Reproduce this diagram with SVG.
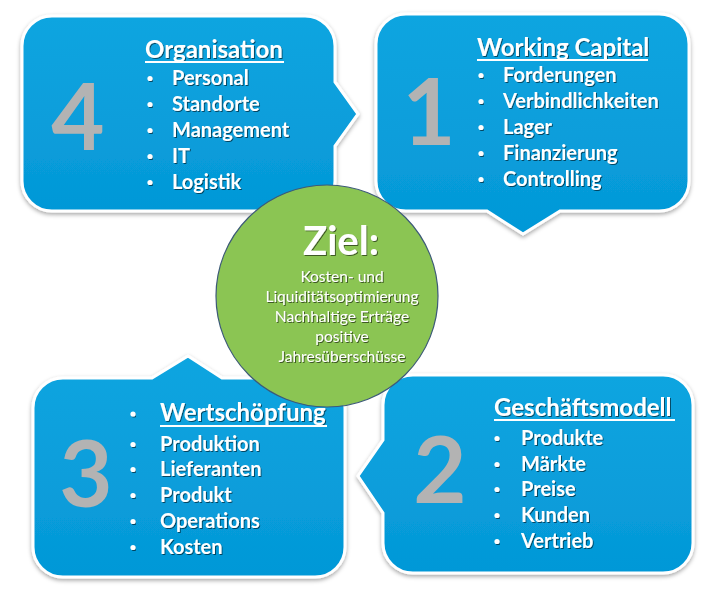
<svg xmlns="http://www.w3.org/2000/svg" width="711" height="594" viewBox="0 0 711 594">
<defs>
<linearGradient id="blue" x1="0" y1="0" x2="0" y2="1">
<stop offset="0" stop-color="#0fa5e0"/>
<stop offset="1" stop-color="#0498d7"/>
</linearGradient>
<filter id="shadow" x="-10%" y="-10%" width="120%" height="125%">
<feDropShadow dx="0" dy="2" stdDeviation="2" flood-color="#000" flood-opacity="0.35"/>
</filter>
<filter id="ts" x="-5%" y="-20%" width="110%" height="150%">
<feDropShadow dx="1" dy="1" stdDeviation="0.6" flood-color="#000" flood-opacity="0.55"/>
</filter>
</defs>
<style>
.box{fill:url(#blue);stroke:#fff;stroke-width:3;filter:url(#shadow)}
.num{font-family:Lato,"Open Sans",sans-serif;font-weight:700;font-size:92px;fill:#b3b3b3}
.hd{font-family:Lato,"Open Sans",sans-serif;font-weight:700;font-size:24px;fill:#fff;filter:url(#ts)}
.it{font-family:Lato,"Open Sans",sans-serif;font-weight:700;font-size:20px;fill:#fff;filter:url(#ts)}
.bl{fill:#fff;filter:url(#ts)}
.ul{stroke:#fff;stroke-width:2}
.zt{font-family:Lato,"Open Sans",sans-serif;font-weight:700;font-size:40px;fill:#fff;text-anchor:middle;filter:url(#ts)}
.zs{font-family:Lato,"Open Sans",sans-serif;font-size:15.5px;fill:#fff;text-anchor:middle;filter:url(#ts)}
</style>
<rect width="711" height="594" fill="#fff"/>

<g id="node-4">
<path class="box" d="M52,16 H305 A30,30 0 0 1 335,46 V82 L358,114 L335,146 V181 A30,30 0 0 1 305,211 H52 A30,30 0 0 1 22,181 V46 A30,30 0 0 1 52,16 Z"/>
<text class="num" x="78" y="150" text-anchor="middle">4</text>
<text class="hd" x="145" y="58">Organisation</text>
<line class="ul" x1="145" y1="62" x2="284" y2="62"/>
<g class="bl">
<circle cx="150" cy="78.5" r="2.6"/><circle cx="150" cy="104.5" r="2.6"/><circle cx="150" cy="130.5" r="2.6"/><circle cx="150" cy="156.5" r="2.6"/><circle cx="150" cy="182.5" r="2.6"/>
</g>
<g class="it">
<text x="172" y="85">Personal</text>
<text x="172" y="111">Standorte</text>
<text x="172" y="137">Management</text>
<text x="172" y="163">IT</text>
<text x="172" y="189">Logistik</text>
</g>
</g>

<g id="node-1">
<path class="box" d="M406,14 H659 A30,30 0 0 1 689,44 V181 A30,30 0 0 1 659,211 H560 L523,234 L487,211 H406 A30,30 0 0 1 376,181 V44 A30,30 0 0 1 406,14 Z"/>
<text class="num" x="429" y="145" text-anchor="middle">1</text>
<text class="hd" x="477" y="56">Working Capital</text>
<line class="ul" x1="477" y1="60" x2="648" y2="60"/>
<g class="bl">
<circle cx="481" cy="75.5" r="2.6"/><circle cx="481" cy="101.5" r="2.6"/><circle cx="481" cy="127.5" r="2.6"/><circle cx="481" cy="153.5" r="2.6"/><circle cx="481" cy="179.5" r="2.6"/>
</g>
<g class="it">
<text x="503" y="82">Forderungen</text>
<text x="503" y="108">Verbindlichkeiten</text>
<text x="503" y="134">Lager</text>
<text x="503" y="160">Finanzierung</text>
<text x="503" y="186">Controlling</text>
</g>
</g>

<g id="node-3">
<path class="box" d="M63,378 H152 L188,356 L222,378 H315 A30,30 0 0 1 345,408 V547 A30,30 0 0 1 315,577 H63 A30,30 0 0 1 33,547 V408 A30,30 0 0 1 63,378 Z"/>
<text class="num" x="86" y="507" text-anchor="middle">3</text>
<g class="bl">
<circle cx="133" cy="414" r="2.6"/><circle cx="133" cy="444.5" r="2.6"/><circle cx="133" cy="469.5" r="2.6"/><circle cx="133" cy="495.5" r="2.6"/><circle cx="133" cy="521.5" r="2.6"/><circle cx="133" cy="547.5" r="2.6"/>
</g>
<g class="it">
<text x="160" y="451">Produktion</text>
<text x="160" y="476">Lieferanten</text>
<text x="160" y="502">Produkt</text>
<text x="160" y="528">Operations</text>
<text x="160" y="554">Kosten</text>
</g>
<text class="hd" x="160" y="421">Wertschöpfung</text>
<line class="ul" x1="160" y1="426" x2="327" y2="426"/>
</g>

<g id="node-2">
<path class="box" d="M413,375 H663 A30,30 0 0 1 693,405 V543 A30,30 0 0 1 663,573 H413 A30,30 0 0 1 383,543 V513 L358,476 L383,440 V405 A30,30 0 0 1 413,375 Z"/>
<text class="num" x="440" y="503" text-anchor="middle">2</text>
<text class="hd" x="494" y="416">Geschäftsmodell</text>
<line class="ul" x1="494" y1="420" x2="675" y2="420"/>
<g class="bl">
<circle cx="497" cy="438.5" r="2.6"/><circle cx="497" cy="464.5" r="2.6"/><circle cx="497" cy="489.5" r="2.6"/><circle cx="497" cy="515.5" r="2.6"/><circle cx="497" cy="541.5" r="2.6"/>
</g>
<g class="it">
<text x="521" y="445">Produkte</text>
<text x="521" y="471">Märkte</text>
<text x="521" y="496">Preise</text>
<text x="521" y="522">Kunden</text>
<text x="521" y="548">Vertrieb</text>
</g>
</g>

<g id="goal">
<circle cx="327" cy="296" r="111" fill="#8bc553" stroke="#3d5a78" stroke-width="1.2"/>
<text class="zt" x="341" y="255">Ziel:</text>
<text class="zs" x="342" y="282">Kosten- und</text>
<text class="zs" x="342" y="302">Liquiditätsoptimierung</text>
<text class="zs" x="342" y="322">Nachhaltige Erträge</text>
<text class="zs" x="342" y="342">positive</text>
<text class="zs" x="342" y="362">Jahresüberschüsse</text>
</g>

<g id="connectors"></g>
</svg>
